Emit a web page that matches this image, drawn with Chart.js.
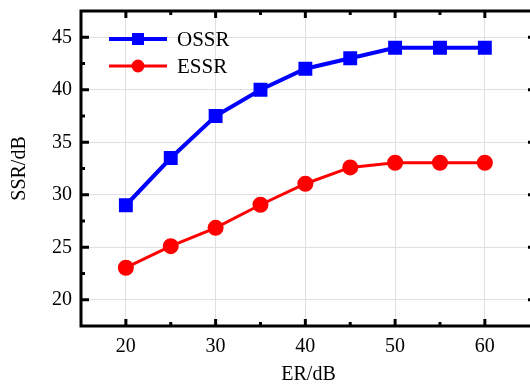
<!DOCTYPE html>
<html><head><meta charset="utf-8">
<script src="https://cdn.jsdelivr.net/npm/chart.js@4/dist/chart.umd.min.js"></script>
<style>html,body{margin:0;padding:0;background:#fff;overflow:hidden}#wrap{width:530px;height:387px;overflow:hidden}</style>
</head><body><div id="wrap"><canvas id="c" width="537" height="387"></canvas></div>
<script>
const erValues = [20, 25, 30, 35, 40, 45, 50, 55, 60];
const ossr = [29.0, 33.5, 37.5, 40.0, 42.0, 43.0, 44.0, 44.0, 44.0];
const essr = [23.05, 25.1, 26.85, 29.05, 31.05, 32.6, 33.05, 33.05, 33.05];
const xTicks = [20, 30, 40, 50, 60];
const xMinor = [25, 35, 45, 55];
const yTicks = [20, 25, 30, 35, 40, 45];
const yMinor = [22.5, 27.5, 32.5, 37.5, 42.5];
const seriesNames = ['OSSR', 'ESSR'];

const FONT = 'Liberation Serif';

const framePlugin = {
  id: 'frame',
  afterDatasetsDraw(chart) {
    const {ctx, chartArea: a, scales: {x, y}} = chart;
    ctx.save();
    ctx.strokeStyle = '#000';
    ctx.lineCap = 'butt';
    const tick = (px, isX, len, w) => {
      ctx.lineWidth = w;
      ctx.beginPath();
      if (isX) {
        ctx.moveTo(px, a.bottom); ctx.lineTo(px, a.bottom - len);
        ctx.moveTo(px, a.top); ctx.lineTo(px, a.top + len);
      } else {
        ctx.moveTo(a.left, px); ctx.lineTo(a.left + len, px);
        ctx.moveTo(a.right, px); ctx.lineTo(a.right - len, px);
      }
      ctx.stroke();
    };
    xTicks.forEach(v => tick(x.getPixelForValue(v), true, 7, 3));
    xMinor.forEach(v => tick(x.getPixelForValue(v), true, 4, 3));
    yTicks.forEach(v => tick(y.getPixelForValue(v), false, 8, 3));
    yMinor.forEach(v => tick(y.getPixelForValue(v), false, 4, 3));
    ctx.lineWidth = 3;
    ctx.strokeRect(a.left, a.top, a.right - a.left, a.bottom - a.top);
    const items = [
      {name: seriesNames[0], color: '#0000ff', style: 'rect', y: 39, lw: 4},
      {name: seriesNames[1], color: '#ff0000', style: 'circle', y: 66, lw: 3}
    ];
    items.forEach(it => {
      ctx.strokeStyle = it.color; ctx.fillStyle = it.color; ctx.lineWidth = it.lw;
      ctx.beginPath(); ctx.moveTo(109, it.y); ctx.lineTo(167, it.y); ctx.stroke();
      if (it.style === 'rect') ctx.fillRect(132, it.y - 6, 12, 12);
      else { ctx.beginPath(); ctx.arc(138, it.y, 6.5, 0, Math.PI * 2); ctx.fill(); }
      ctx.fillStyle = '#000';
      ctx.font = '21px "' + FONT + '"';
      ctx.textBaseline = 'middle';
      ctx.textAlign = 'left';
      ctx.fillText(it.name, 177, it.y + 1);
    });
    ctx.restore();
  }
};

new Chart(document.getElementById('c'), {
  type: 'line',
  data: {
    datasets: [
      {label: seriesNames[0], data: erValues.map((v, i) => ({x: v, y: ossr[i]})),
       borderColor: '#0000ff', backgroundColor: '#0000ff', borderWidth: 4,
       pointStyle: 'rect', pointRadius: 7, pointHoverRadius: 7, tension: 0},
      {label: seriesNames[1], data: erValues.map((v, i) => ({x: v, y: essr[i]})),
       borderColor: '#ff0000', backgroundColor: '#ff0000', borderWidth: 3,
       pointStyle: 'circle', pointRadius: 6.5, pointHoverRadius: 6.5, tension: 0}
    ]
  },
  options: {
    responsive: false,
    animation: false,
    devicePixelRatio: 1,
    layout: {autoPadding: false, padding: {top: 11, right: 1, left: 0, bottom: 0}},
    plugins: {legend: {display: false}, tooltip: {enabled: false}},
    scales: {
      x: {
        type: 'linear', min: 15, max: 65.7,
        afterBuildTicks: s => { s.ticks = xTicks.map(v => ({value: v})); },
        afterFit: s => { s.height = 61; s.paddingLeft = 0; s.paddingRight = 0; },
        grid: {color: '#e0e0e0', lineWidth: 1, drawTicks: false},
        border: {display: false},
        ticks: {color: '#000', font: {family: FONT, size: 20}, padding: 9, maxRotation: 0},
        title: {display: true, text: 'ER/dB', color: '#000', font: {family: FONT, size: 20}, padding: {top: 2, bottom: 0}}
      },
      y: {
        type: 'linear', min: 17.5, max: 47.5,
        afterBuildTicks: s => { s.ticks = yTicks.map(v => ({value: v})); },
        afterFit: s => { s.width = 81; s.paddingTop = 0; s.paddingBottom = 0; },
        grid: {color: '#e0e0e0', lineWidth: 1, drawTicks: false},
        border: {display: false},
        ticks: {color: '#000', font: {family: FONT, size: 20}, padding: 9},
        title: {display: true, text: 'SSR/dB', color: '#000', font: {family: FONT, size: 20}, padding: {top: 8, bottom: 0}}
      }
    }
  },
  plugins: [framePlugin]
});
</script></body></html>
